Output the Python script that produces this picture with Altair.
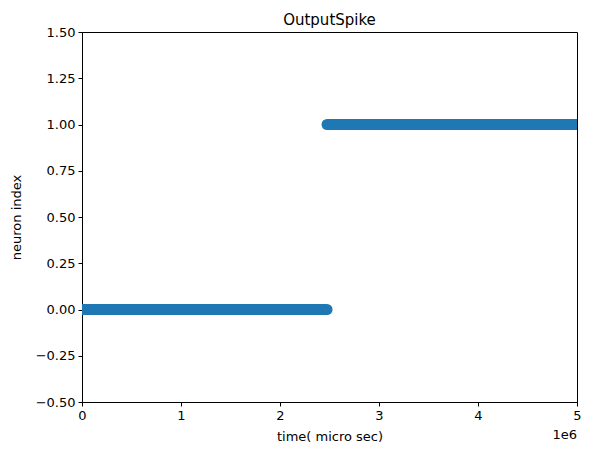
import altair as alt
import pandas as pd

# spike trains: each neuron fires continuously over an interval (dense scatter band)
neurons = [0, 1]
first_spike = [0.0, 2.475e6]
last_spike = [2.475e6, 5.0e6]

x_ticks = [0, 1e6, 2e6, 3e6, 4e6, 5e6]
y_ticks = [-0.5, -0.25, 0.0, 0.25, 0.5, 0.75, 1.0, 1.25, 1.5]

df = pd.DataFrame({"neuron": neurons, "start": first_spike, "end": last_spike})

FONT = "DejaVu Sans"
W, H = 495, 370

xscale = alt.Scale(domain=[0, 5e6], nice=False, zero=False)
yscale = alt.Scale(domain=[-0.5, 1.5], nice=False, zero=False)

bands = alt.Chart(df).mark_rule(
    strokeWidth=11, strokeCap="round", color="#1f77b4", clip=True
).encode(
    x=alt.X("start:Q", scale=xscale,
            axis=alt.Axis(values=x_ticks, labelExpr="format(datum.value/1e6, 'd')",
                          title="time( micro sec)", grid=False, tickSize=4,
                          labelFlush=False, labelPadding=3, titlePadding=8)),
    x2="end:Q",
    y=alt.Y("neuron:Q", scale=yscale,
            axis=alt.Axis(values=y_ticks, format=".2f", title="neuron index",
                          grid=False, tickSize=4, labelFlush=False,
                          labelPadding=3, titlePadding=12)),
)

exp_text = alt.Chart(pd.DataFrame({"t": ["1e6"]})).mark_text(
    align="right", baseline="middle", font=FONT, fontSize=13, color="black"
).encode(
    x=alt.datum(5e6, scale=xscale),
    y=alt.value(H + 33),
    text="t:N",
)

chart = alt.layer(bands, exp_text).properties(
    width=W, height=H,
    title=alt.Title("OutputSpike", font=FONT, fontSize=15, fontWeight="normal",
                    anchor="middle", offset=-2, color="black"),
    autosize=alt.AutoSizeParams(type="none"),
    padding={"left": 74, "top": 24, "right": 6, "bottom": 45},
).configure_view(
    stroke="black", strokeWidth=1
).configure_axis(
    domainColor="black", tickColor="black", labelColor="black", titleColor="black",
    labelFont=FONT, titleFont=FONT, labelFontSize=13, titleFontSize=13,
    titleFontWeight="normal",
)

chart.save("out.html", embed_options={"renderer": "svg", "actions": False})
